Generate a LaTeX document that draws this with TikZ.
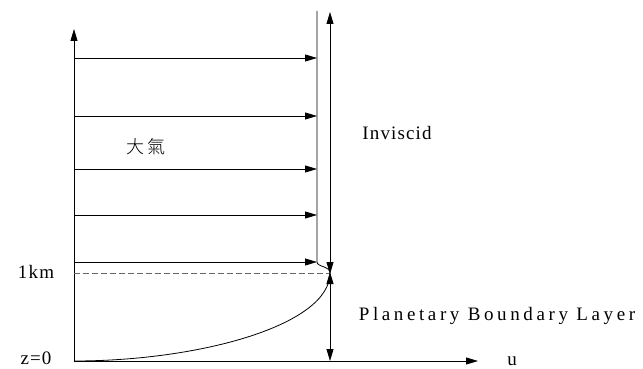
\documentclass[tikz,border=0pt]{standalone}
\usepackage{fontspec}
\setmainfont{Liberation Serif}
\newfontfamily\spacedA[LetterSpace=19]{Liberation Serif}
\newfontfamily\spacedB[LetterSpace=6]{Liberation Serif}
\newfontfamily\cjk{Noto Sans CJK TC Light}
\usetikzlibrary{arrows.meta}
\tikzset{
  ax/.style={line width=0.8pt, -{Triangle[length=12pt,width=7pt]}},
  vel/.style={line width=0.8pt, -{Triangle[length=12pt,width=7pt]}},
  dbl/.style={line width=0.8pt, {Triangle[length=12pt,width=7pt]}-{Triangle[length=12pt,width=7pt]}},
  lbl/.style={inner sep=0pt, font=\fontsize{19}{21}\selectfont\spacedB},
}
\begin{document}
\begin{tikzpicture}[x=1pt,y=-1pt]
\useasboundingbox (0,0) rectangle (643,369);
% axes
\coordinate (O) at (74,361);
\coordinate (Ztop) at (74,29);
\coordinate (Uend) at (478,361);
\draw[ax] (O) -- (Ztop);
\draw[ax] (O) -- (Uend);
% velocity arrows
\foreach \y/\n in {58/a,116/b,169/c,215/d,262/e}{
  \coordinate (s\n) at (74,\y);
  \coordinate (t\n) at (317,\y);
  \draw[vel] (s\n) -- (t\n);
}
% profile
\coordinate (top) at (317,11);
\coordinate (knee) at (330,273);
\draw[line width=0.8pt] (top) -- (te) .. controls (317,267) and (330,266) .. (knee)
   .. controls (330,325) and (200,361) .. (O);
% dashed 1km line
\coordinate (d0) at (74,273);
\draw[gray!80!black, line width=0.8pt, dash pattern=on 6pt off 3pt] (d0) -- (knee);
% double arrows
\coordinate (itop) at (330,12);
\coordinate (ibot) at (330,361);
\draw[dbl] (itop) -- ([yshift=-1pt]knee);
\draw[dbl] ([yshift=1pt]knee) -- (ibot);
% labels
\node[lbl] (km) at (36,272) {1km};
\node[lbl] (z0) at (36,358) {z=0};
\node[lbl] (u) at (512,361) {u};
\node[lbl] (inv) at (397,133) {Inviscid};
\node[lbl, font=\fontsize{19}{21}\selectfont\spacedA] (pbl) at (497,316) {Planetary Boundary Layer};
\node[inner sep=0pt, font=\fontsize{18}{20}\selectfont\cjk] (atm) at (146,147) {大\,氣};
\end{tikzpicture}
\end{document}
